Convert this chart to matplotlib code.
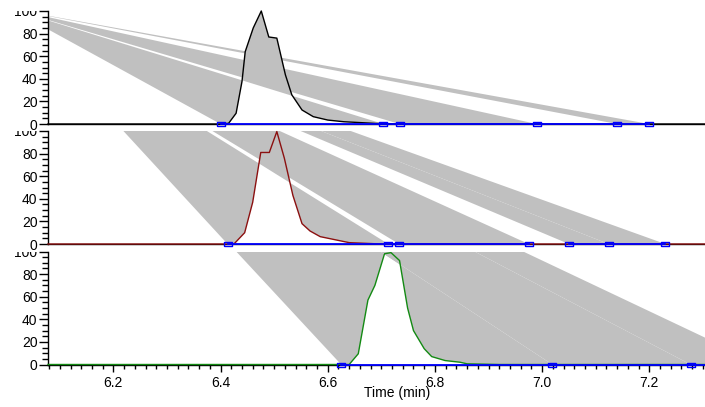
import numpy as np
import matplotlib
matplotlib.use("Agg")
import matplotlib.pyplot as plt
from matplotlib.patches import Polygon
from matplotlib.ticker import MultipleLocator, FormatStrFormatter
from matplotlib.transforms import Bbox, TransformedBbox

plt.rcParams['font.family'] = ['Liberation Sans', 'DejaVu Sans']
plt.rcParams['font.size'] = 10

# trace 1 (black)
t1 = [6.078, 6.400, 6.415, 6.429, 6.440, 6.446, 6.461, 6.476, 6.490, 6.505, 6.521,
      6.533, 6.552, 6.573, 6.600, 6.630, 6.690, 6.750, 7.450]
i1 = [0, 0, 0.6, 9.5, 37.6, 64, 85, 100, 77, 76, 43.5, 25.8, 12.4, 6.5, 3.5, 2.0, 0.5, 0, 0]
bands1 = [(6.400, 6.704), (6.734, 6.990), (7.140, 7.200)]
base1 = [(6.400, 7.200)]

# trace 2 (dark red)
t2 = [6.078, 6.425, 6.445, 6.460, 6.475, 6.491, 6.505, 6.519, 6.535, 6.552, 6.567,
      6.586, 6.640, 6.700, 7.450]
i2 = [0, 0, 10, 37, 81, 81, 99.5, 76, 43, 18, 11.5, 6.5, 1.2, 0, 0]
bands2 = [(6.413, 6.713), (6.733, 6.975), (7.050, 7.124), (7.124, 7.230)]
base2 = [(6.413, 6.975), (7.050, 7.230)]

# trace 3 (green)
t3 = [6.078, 6.640, 6.657, 6.675, 6.688, 6.706, 6.718, 6.734, 6.749, 6.760, 6.780,
      6.794, 6.819, 6.847, 6.860, 6.920, 7.450]
i3 = [0, 0, 9.5, 57, 70, 98, 99, 92, 50, 30, 14, 7, 3.5, 2.0, 0.6, 0, 0]
bands3 = [(6.625, 7.019), (7.019, 7.277), (7.277, 7.410)]
base3 = [(6.625, 7.410)]

yticks = [0, 20, 40, 60, 80, 100]
ylabels = ['0', '20', '40', '60', '80', '']

traces = [(t1, i1, bands1, base1, 'black'),
          (t2, i2, bands2, base2, '#8b1010'),
          (t3, i3, bands3, base3, '#138a13')]

W, H = 705, 407
fig = plt.figure(figsize=(W / 100, H / 100), dpi=100)
apex_px = (11, H - 9)          # projection point of the shaded bands (figure px)
left_px = 48
bottoms = [283, 163, 42.5]
ph = 113

rect_marker = [(-1, -0.5), (1, -0.5), (1, 0.5), (-1, 0.5), (-1, -0.5)]
maj_len, lab_pad = 6.5, 1.0

for k, (t, inten, bands, base, col) in enumerate(traces):
    ax = fig.add_axes([left_px / W, bottoms[k] / H, (W - left_px) / W, ph / H])
    ax.set_xlim(6.078, 7.304)
    ax.set_ylim(0, 100)
    t = np.array(t)
    inten = np.array(inten)

    apex = ax.transData.inverted().transform(apex_px)
    for a, b in bands:
        m = (t > a) & (t < b)
        verts = [tuple(apex), (a, 0)] + list(zip(t[m], inten[m])) + [(b, 0)]
        ax.add_patch(Polygon(verts, closed=True, facecolor='#c0c0c0',
                             edgecolor='none', zorder=1))

    ax.plot(t, inten, color=col, lw=1.0, zorder=3, clip_on=False)
    for a, b in base:
        ax.plot([a, b], [0, 0], color='#0000ff', lw=1.3, zorder=4, clip_on=False)
    marks = sorted(set([v for ab in bands for v in ab]))
    ax.plot(marks, np.zeros(len(marks)), ls='none', marker=rect_marker, ms=6,
            mfc='none', mec='#0000ff', mew=1.0, zorder=5, clip_on=False)

    for s in ['top', 'right']:
        ax.spines[s].set_visible(False)
    ax.spines['left'].set_linewidth(1.0)
    ax.spines['bottom'].set_linewidth(1.0)

    ax.set_yticks(yticks, ylabels)
    ax.yaxis.set_minor_locator(MultipleLocator(5))
    ax.tick_params(axis='y', which='major', length=maj_len, width=1, pad=lab_pad, labelsize=10)
    ax.tick_params(axis='y', which='minor', length=4, width=1)
    ax.xaxis.set_major_locator(MultipleLocator(0.2))
    ax.xaxis.set_minor_locator(MultipleLocator(0.02))
    ax.xaxis.set_major_formatter(FormatStrFormatter('%.1f'))
    if k < 2:
        ax.tick_params(axis='x', which='both', bottom=False, labelbottom=False)
    else:
        ax.tick_params(axis='x', which='major', length=5, width=1, pad=3, labelsize=10)
        ax.tick_params(axis='x', which='minor', length=3, width=1)

    # top label "100" is cut off at the top edge of its panel
    trans, va, ha = ax.get_yaxis_text1_transform(maj_len + lab_pad)
    top_lab = ax.text(0, 100, '100', transform=trans, va=va, ha=ha, fontsize=10)
    top_lab.set_clip_path(None)
    top_lab.set_clip_box(TransformedBbox(Bbox([[-0.5, 0.0], [1.0, 1.0]]), ax.transAxes))
    top_lab.set_clip_on(True)

fig.text(397 / W, 1 - 393 / H, 'Time (min)', ha='center', va='center', fontsize=10)

fig.savefig('out.png', dpi=100)
